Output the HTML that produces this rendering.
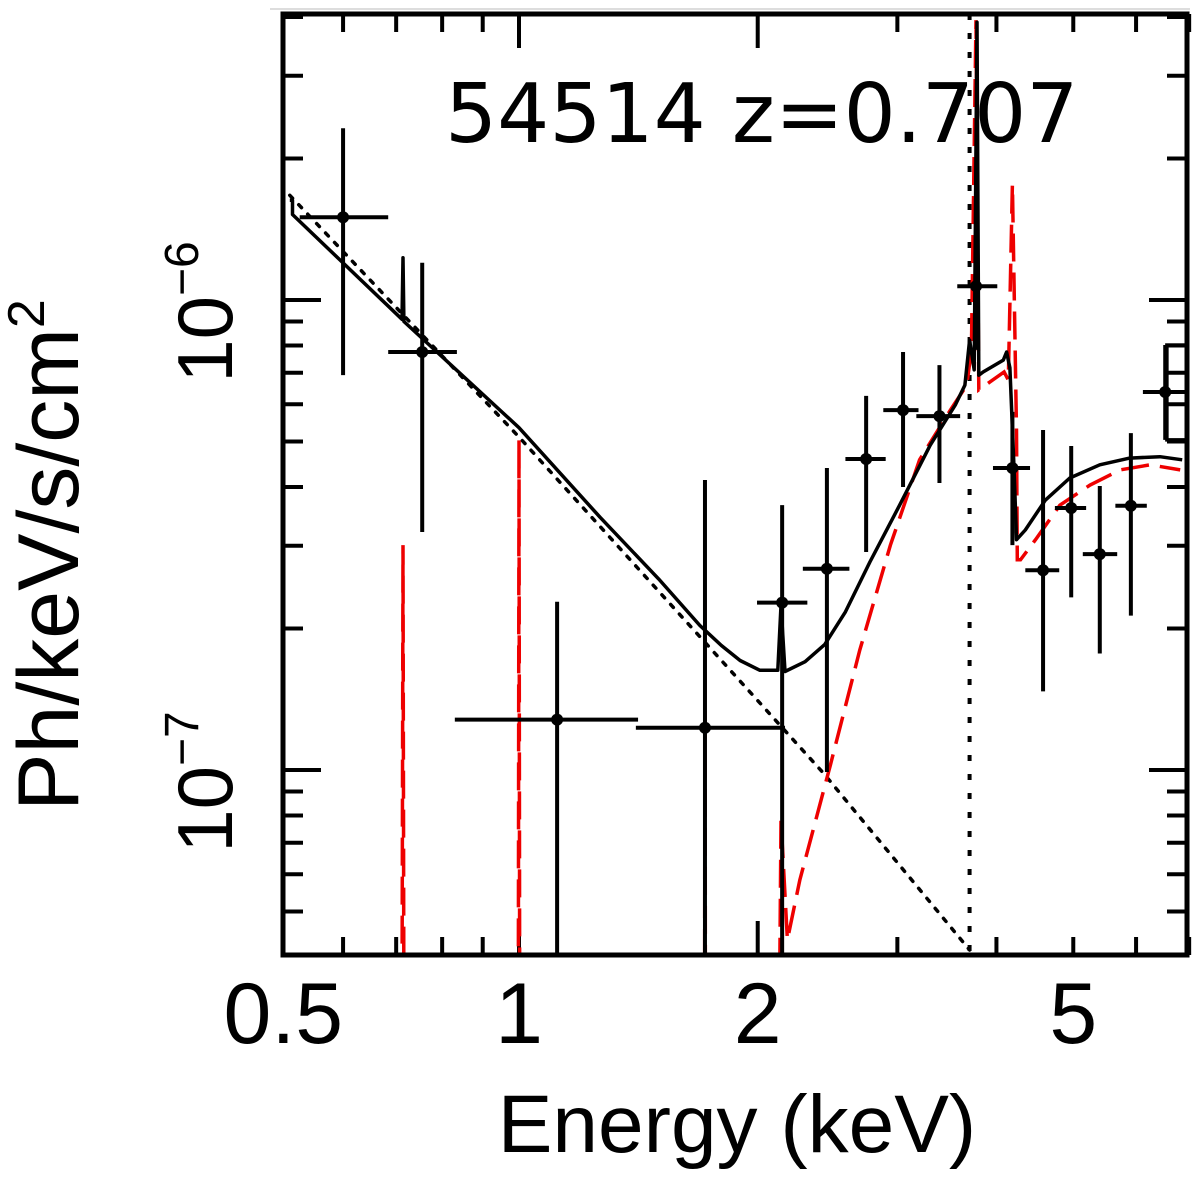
<!DOCTYPE html>
<html><head><meta charset="utf-8"><style>
html,body{margin:0;padding:0;background:#fff}
svg{display:block}
</style></head><body>
<svg id="chart" width="1200" height="1195" viewBox="0 0 1200 1195" xmlns="http://www.w3.org/2000/svg">
<defs><clipPath id="pc"><rect x="284" y="14" width="902" height="940"/></clipPath></defs>
<line x1="270" y1="9" x2="1190" y2="9" stroke="#bbb" stroke-width="1"/>
<g id="ticks"></g>
<g id="marks" clip-path="url(#pc)"></g>
<rect x="283" y="14" width="904" height="941" fill="none" stroke="#000" stroke-width="5"/>
<text x="445" y="142" font-family="DejaVu Sans, sans-serif" font-size="82" fill="#000">54514 z=0.707</text>
<g id="xlabels" font-family="Liberation Sans, sans-serif" font-size="86" text-anchor="middle"></g>
<text x="737" y="1152" font-family="Liberation Sans, sans-serif" font-size="82" text-anchor="middle">Energy (keV)</text>
<text transform="translate(78,555) rotate(-90)" font-family="Liberation Sans, sans-serif" font-size="86" text-anchor="middle">Ph/keV/s/cm<tspan font-size="52" dy="-34">2</tspan></text>
<g id="ylabels" font-family="Liberation Sans, sans-serif" font-size="78" text-anchor="middle"></g>
</svg>
<script>
// data: energy in keV, flux in units of 1e-7 Ph/keV/s/cm2
const ptE   =[0.600,0.755,1.117,1.716,2.147,2.445,2.74,3.05,3.39,3.77,4.19,4.58,4.97,5.40,5.91,6.53];
const ptF   =[15.0,7.75,1.28,1.23,2.27,2.68,4.59,5.83,5.66,10.7,4.39,2.66,3.61,2.88,3.65,6.37];
const ptElo =[0.529,0.684,0.830,1.404,1.996,2.28,2.58,2.88,3.17,3.57,3.96,4.35,4.74,5.14,5.65,6.12];
const ptEhi =[0.684,0.835,1.413,2.165,2.31,2.61,2.90,3.19,3.60,4.01,4.41,4.80,5.19,5.68,6.19,6.98];
const ptFhi =[23.2,12.0,2.28,4.14,3.66,4.39,6.25,7.75,7.27,12.8,5.78,5.29,4.89,4.02,5.21,8.02];
const ptFlo =[6.92,3.21,0.3,0.3,0.3,0.99,2.91,4.00,4.08,7.83,3.01,1.47,2.33,1.77,2.13,5.04];
const modE  =[0.514,0.518,0.518,0.712,0.714,0.716,1.0,1.265,1.50,1.691,1.80,1.90,2.013,2.12,2.14,2.165,2.295,2.43,2.58,2.77,3.02,3.30,3.55,3.65,3.70,3.75,3.78,3.80,3.85,4.08,4.12,4.16,4.21,4.24,4.35,4.61,4.95,5.40,5.89,6.43,6.86];
const modF  =[16.3,16.3,15.2,9.1,12.3,9.0,5.35,3.45,2.55,2.03,1.84,1.71,1.63,1.63,2.24,1.62,1.70,1.85,2.17,2.77,3.66,4.91,5.98,6.59,8.22,7.10,39.0,6.92,7.03,7.45,7.75,7.17,4.35,3.09,3.24,3.75,4.18,4.46,4.61,4.64,4.57];
const absE  =[0.70,0.712,0.714,0.716,0.998,1.0,1.002,1.714,1.716,1.718,2.13,2.14,2.18,2.26,2.47,2.69,2.94,3.20,3.50,3.67,3.72,3.77,3.80,4.09,4.14,4.19,4.24,4.25,4.29,4.48,4.81,5.25,5.73,6.25,6.82];
const absF  =[0.3,0.3,3.01,0.3,0.3,5.04,0.3,0.3,2.30,0.3,0.3,0.783,0.435,0.583,1.025,1.80,3.01,4.57,5.83,6.59,7.83,39.4,6.44,7.03,6.76,17.6,5.29,2.80,2.80,3.09,3.66,4.04,4.35,4.46,4.35];
const plE   =[0.514,1.0,2.42,3.70];
const plF   =[16.7,5.11,0.985,0.414];
const lineE =3.70;
const xTickVals=[0.6,0.7,0.8,0.9,1,2,3,4,5,6,7];
const xLabelVals=[0.5,1,2,5];
const xLabelText=["0.5","1","2","5"];
const yMajor=[1,10];
const yMinor=[0.5,0.6,0.7,0.8,0.9,2,3,4,5,6,7,8,9,20,30,40];
const yLabelExp=["−7","−6"];

const NS="http://www.w3.org/2000/svg";
const sx=e=>519+793*Math.log10(e);
const sy=f=>770-470*Math.log10(f);
function mk(tag,parent,attrs){const el=document.createElementNS(NS,tag);for(const k in attrs)el.setAttribute(k,attrs[k]);parent.appendChild(el);return el;}
const marks=document.getElementById('marks'),ticks=document.getElementById('ticks');
const L=283,R=1187,T=14,B=955;
xTickVals.forEach(v=>{const x=sx(v);const len=(v===1||v===2)?34:18;
 let t=mk('line',ticks,{x1:x,x2:x,y1:B,y2:B-len,stroke:'#000','stroke-width':4});
 
 
 t=mk('line',ticks,{x1:x,x2:x,y1:T,y2:T+len,stroke:'#000','stroke-width':4});
 
 });
yMajor.concat(yMinor).forEach(v=>{const y=sy(v);if(y<T||y>B)return;const len=yMajor.includes(v)?38:20;
 let t=mk('line',ticks,{x1:L,x2:L+len,y1:y,y2:y,stroke:'#000','stroke-width':4});
 
 
 t=mk('line',ticks,{x1:R,x2:R-len,y1:y,y2:y,stroke:'#000','stroke-width':4});
 
 });
const xl=document.getElementById('xlabels');
xLabelVals.forEach((v,i)=>{const t=mk('text',xl,{x:sx(v)+(i===0?3:0),y:1043});t.textContent=xLabelText[i];
 
 });
const yl=document.getElementById('ylabels');
yMajor.forEach((v,i)=>{const y=sy(v);const t=mk('text',yl,{transform:`translate(232,${y+12}) rotate(-90)`});
 
 
 t.appendChild(document.createTextNode('10'));const ts=mk('tspan',t,{'font-size':48,dy:-34});ts.textContent=yLabelExp[i];});
function path(E,F){return E.map((e,i)=>(i?'L':'M')+sx(e).toFixed(1)+','+sy(F[i]).toFixed(1)).join(' ');}
let p=mk('path',marks,{d:path(plE,plF),fill:'none',stroke:'#000','stroke-width':3.5,'stroke-dasharray':'4 9','stroke-linecap':'round'});


p=mk('line',marks,{x1:sx(lineE),x2:sx(lineE),y1:T,y2:B,stroke:'#000','stroke-width':4,'stroke-dasharray':'6 13'});


p=mk('path',marks,{d:path(absE,absF),fill:'none',stroke:'#e00','stroke-width':3.5,'stroke-dasharray':'28 11'});


p=mk('path',marks,{d:path(modE,modF),fill:'none',stroke:'#000','stroke-width':3.5,'stroke-linejoin':'round'});


ptE.forEach((e,i)=>{const g=mk('g',marks,{});
 
 
 const x=sx(e),y=sy(ptF[i]);
 mk('line',g,{x1:sx(ptElo[i]),x2:sx(ptEhi[i]),y1:y,y2:y,stroke:'#000','stroke-width':4});
 mk('line',g,{x1:x,x2:x,y1:sy(ptFhi[i]),y2:sy(ptFlo[i]),stroke:'#000','stroke-width':4});
 mk('circle',g,{cx:x,cy:y,r:6,fill:'#000'});});
const last=ptE.length-1;
p=mk('rect',marks,{x:sx(ptElo[last])+24,y:sy(ptFhi[last]),width:sx(ptEhi[last])-sx(ptElo[last])-24,height:sy(ptFlo[last])-sy(ptFhi[last]),fill:'none',stroke:'#000','stroke-width':3.5});


</script>
</body></html>
